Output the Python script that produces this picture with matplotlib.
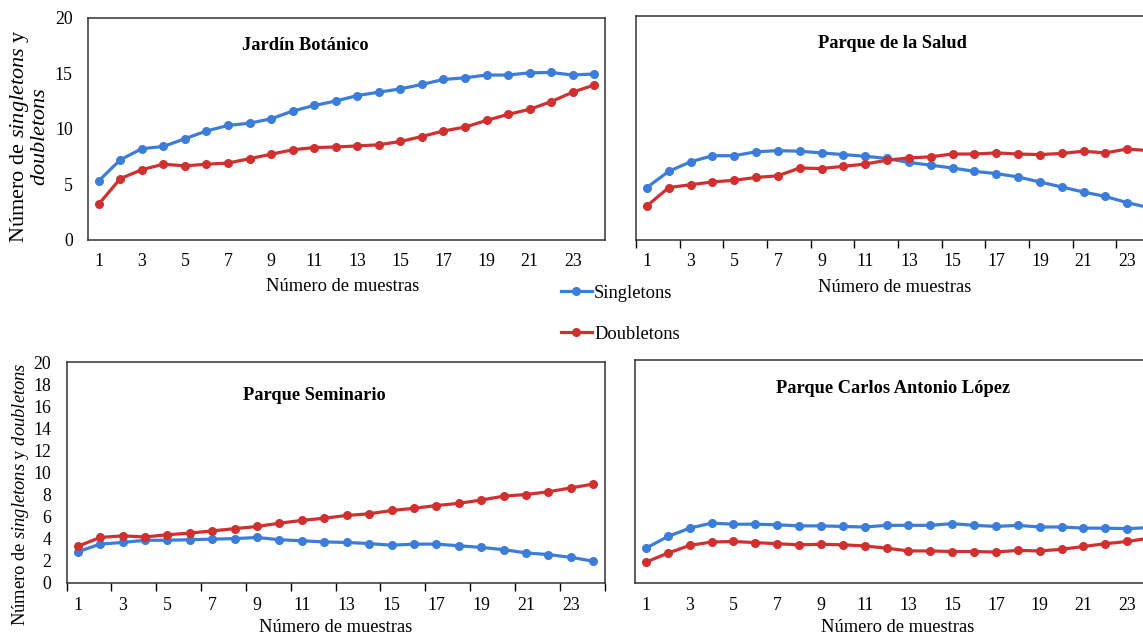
import numpy as np
import matplotlib
matplotlib.use("Agg")
import matplotlib.pyplot as plt
from matplotlib.ticker import FixedLocator

plt.rcParams['font.family'] = ['Liberation Serif', 'DejaVu Serif']
plt.rcParams['mathtext.fontset'] = 'custom'
plt.rcParams['mathtext.rm'] = 'Liberation Serif'
plt.rcParams['mathtext.it'] = 'Liberation Serif:italic'

muestras = np.arange(1, 25)

# Jardín Botánico
jb_single = [5.3, 7.2, 8.2, 8.4, 9.1, 9.8, 10.3, 10.5, 10.9, 11.6, 12.1, 12.5,
             13.0, 13.3, 13.6, 14.0, 14.45, 14.6, 14.85, 14.85, 15.05, 15.08, 14.85, 14.95]
jb_double = [3.2, 5.5, 6.3, 6.8, 6.65, 6.8, 6.9, 7.3, 7.7, 8.1, 8.3, 8.35,
             8.45, 8.55, 8.85, 9.3, 9.8, 10.15, 10.75, 11.3, 11.75, 12.45, 13.3, 13.95]

# Parque de la Salud
ps_single = [4.65, 6.1, 6.95, 7.5, 7.5, 7.85, 7.95, 7.9, 7.75, 7.6, 7.45, 7.25,
             6.9, 6.65, 6.4, 6.1, 5.9, 5.6, 5.15, 4.7, 4.25, 3.85, 3.3, 2.85]
ps_double = [3.0, 4.65, 4.9, 5.15, 5.3, 5.55, 5.7, 6.4, 6.35, 6.55, 6.75, 7.1,
             7.3, 7.4, 7.65, 7.65, 7.75, 7.65, 7.6, 7.7, 7.9, 7.75, 8.1, 7.95]

# Parque Seminario
sem_single = [2.8, 3.5, 3.65, 3.85, 3.85, 3.9, 3.95, 4.0, 4.1, 3.9, 3.8, 3.7,
              3.65, 3.55, 3.4, 3.5, 3.5, 3.35, 3.2, 3.0, 2.7, 2.55, 2.3, 1.95]
sem_double = [3.3, 4.1, 4.25, 4.15, 4.35, 4.5, 4.7, 4.9, 5.1, 5.4, 5.65, 5.85,
              6.1, 6.25, 6.55, 6.75, 7.0, 7.2, 7.5, 7.85, 8.0, 8.25, 8.6, 8.95]

# Parque Carlos Antonio López
cal_single = [3.1, 4.15, 4.9, 5.35, 5.25, 5.25, 5.2, 5.1, 5.1, 5.05, 5.0, 5.15,
              5.15, 5.15, 5.3, 5.15, 5.05, 5.15, 5.0, 5.0, 4.9, 4.9, 4.85, 4.95]
cal_double = [1.85, 2.65, 3.35, 3.65, 3.7, 3.6, 3.5, 3.4, 3.45, 3.4, 3.3, 3.1,
              2.85, 2.85, 2.8, 2.8, 2.75, 2.9, 2.85, 3.0, 3.25, 3.5, 3.7, 4.0]

titles = ['Jardín Botánico', 'Parque de la Salud', 'Parque Seminario',
          'Parque Carlos Antonio López']
singles = [jb_single, ps_single, sem_single, cal_single]
doubles = [jb_double, ps_double, sem_double, cal_double]

blue = '#3C7DD9'
red = '#D0302F'

fig = plt.figure(figsize=(11.43, 6.38), dpi=100)
positions = [[0.0770, 0.6246, 0.4523, 0.3472],
             [0.5564, 0.6246, 0.4584, 0.3503],
             [0.0582, 0.0867, 0.4707, 0.3455],
             [0.5556, 0.0867, 0.4593, 0.3491]]
title_pos = [(0.42, 0.878), (0.49, 0.879), (0.461, 0.848), (0.491, 0.870)]
xticks_marks = [False, True, True, False]

axes = []
for i in range(4):
    ax = fig.add_axes(positions[i])
    ax.plot(muestras, singles[i], color=blue, lw=2.3, marker='o', ms=5.5,
            label='Singletons')
    ax.plot(muestras, doubles[i], color=red, lw=2.3, marker='o', ms=5.5,
            label='Doubletons')
    ax.set_xlim(0.5, 24.5)
    ax.set_ylim(0, 20)
    ax.set_xticks(np.arange(1, 25, 2))
    ax.tick_params(axis='x', which='major', length=0, pad=10, labelsize=12.8)
    if xticks_marks[i]:
        ax.xaxis.set_minor_locator(FixedLocator(np.arange(0.5, 25, 2)))
        ax.tick_params(axis='x', which='minor', length=6, width=1, direction='out')
    for sp in ax.spines.values():
        sp.set_color('#333333')
        sp.set_linewidth(1.1)
    if i == 0:
        ax.set_yticks(np.arange(0, 21, 5))
    elif i == 2:
        ax.set_yticks(np.arange(0, 21, 2))
    else:
        ax.set_yticks([])
    ax.tick_params(axis='y', length=0, pad=11, labelsize=12.8)
    ax.text(title_pos[i][0], title_pos[i][1], titles[i], transform=ax.transAxes,
            ha='center', va='center', fontsize=13.2, fontweight='bold')
    ax.set_xlabel('Número de muestras', fontsize=13.3)
    if i < 2:
        ax.xaxis.set_label_coords(0.493, -0.175)
    else:
        ax.xaxis.set_label_coords(0.50, -0.165)
    axes.append(ax)

axes[0].set_ylabel('Número de $\\mathit{singletons}$ y\n$\\mathit{doubletons}$',
                   fontsize=16, linespacing=0.95)
axes[0].yaxis.set_label_coords(-0.074, 0.465)
axes[2].set_ylabel('Número de $\\mathit{singletons}$ y $\\mathit{doubletons}$',
                   fontsize=13.3)
axes[2].yaxis.set_label_coords(-0.066, 0.40)

h, lab = axes[0].get_legend_handles_labels()
fig.legend(h, lab, loc='center left', bbox_to_anchor=(0.4825, 0.508),
           frameon=False, fontsize=13.3, handlelength=1.7, handletextpad=0.1,
           labelspacing=1.3, borderpad=0)

fig.savefig('out.png', dpi=100)
